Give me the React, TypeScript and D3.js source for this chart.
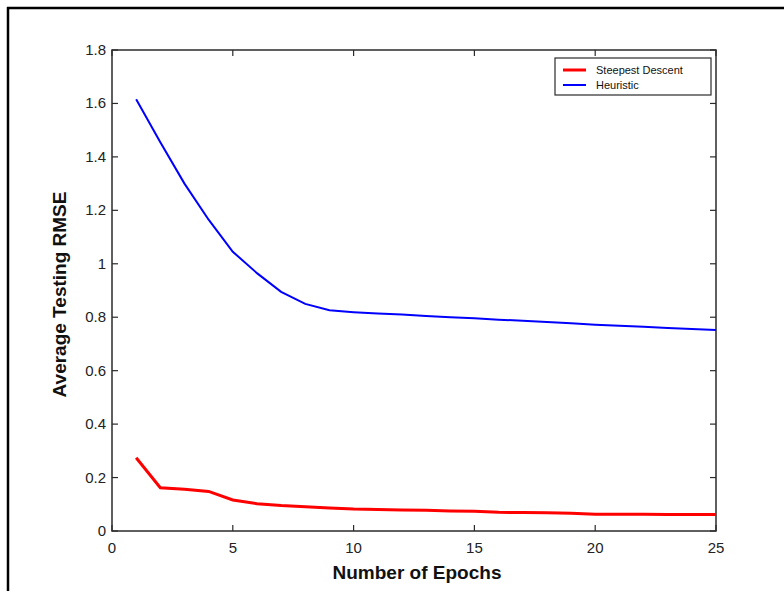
import React from "react";
import * as d3 from "d3";

const epochs = [1,2,3,4,5,6,7,8,9,10,11,12,13,14,15,16,17,18,19,20,21,22,23,24,25];
const steepest = [0.274,0.162,0.156,0.148,0.116,0.102,0.095,0.091,0.086,0.082,0.080,0.079,0.078,0.075,0.074,0.070,0.069,0.068,0.066,0.063,0.063,0.063,0.062,0.062,0.062];
const heuristic = [1.616,1.455,1.300,1.165,1.045,0.965,0.895,0.850,0.826,0.819,0.814,0.810,0.805,0.800,0.796,0.791,0.787,0.782,0.777,0.772,0.768,0.764,0.760,0.756,0.752];
const xTicks = [0,5,10,15,20,25];
const yTicks = [0,0.2,0.4,0.6,0.8,1,1.2,1.4,1.6,1.8];
const seriesNames = ["Steepest Descent","Heuristic"];

const W = 784, H = 591;
const L = 112, R = 716, T = 50, B = 531;

export default function App() {
  const x = d3.scaleLinear().domain([0,25]).range([L,R]);
  const y = d3.scaleLinear().domain([0,1.8]).range([B,T]);
  const line = d3.line<number>().x((_, i) => x(epochs[i])).y(d => y(d));
  const axisColor = "#2b2b2b";
  const tl = 6;
  return (
    <svg width={W} height={H} style={{position:"absolute",left:0,top:0,background:"#fff"}} fontFamily="Arial, 'Liberation Sans', sans-serif">
      <rect x={0} y={0} width={W} height={H} fill="#fff"/>
      <line x1={8} y1={7} x2={8} y2={H} stroke="#000" strokeWidth={2.5}/>
      <line x1={7} y1={8} x2={W} y2={8} stroke="#000" strokeWidth={2.5}/>
      <rect x={L} y={T} width={R-L} height={B-T} fill="none" stroke={axisColor} strokeWidth={1.5}/>
      {xTicks.map(t => (
        <g key={"x"+t}>
          <line x1={x(t)} x2={x(t)} y1={B} y2={B-tl} stroke={axisColor} strokeWidth={1.2}/>
          <line x1={x(t)} x2={x(t)} y1={T} y2={T+tl} stroke={axisColor} strokeWidth={1.2}/>
          <text x={x(t)} y={553} textAnchor="middle" fontSize={15} fill="#222">{t}</text>
        </g>
      ))}
      {yTicks.map(t => (
        <g key={"y"+t}>
          <line x1={L} x2={L+tl} y1={y(t)} y2={y(t)} stroke={axisColor} strokeWidth={1.2}/>
          <line x1={R} x2={R-tl} y1={y(t)} y2={y(t)} stroke={axisColor} strokeWidth={1.2}/>
          <text x={106} y={y(t)+5} textAnchor="end" fontSize={15} fill="#222">{d3.format("~g")(t)}</text>
        </g>
      ))}
      <path d={line(heuristic) || ""} fill="none" stroke="#0000ff" strokeWidth={2}/>
      <path d={line(steepest) || ""} fill="none" stroke="#ff0000" strokeWidth={3}/>
      <g>
        <rect x={555} y={58} width={156} height={37} fill="#fff" stroke={axisColor} strokeWidth={1.2}/>
        <line x1={563} x2={586} y1={70} y2={70} stroke="#ff0000" strokeWidth={3}/>
        <line x1={563} x2={586} y1={85} y2={85} stroke="#0000ff" strokeWidth={2}/>
        <text x={596} y={74} fontSize={11} fill="#111">{seriesNames[0]}</text>
        <text x={596} y={89} fontSize={11} fill="#111">{seriesNames[1]}</text>
      </g>
      <text x={(L+R)/2 + 3} y={579} textAnchor="middle" fontSize={19} fontWeight="bold" fill="#111">Number of Epochs</text>
      <text transform={`translate(66,${(T+B)/2 + 4}) rotate(-90)`} textAnchor="middle" fontSize={19} fontWeight="bold" fill="#111">Average Testing RMSE</text>
    </svg>
  );
}
